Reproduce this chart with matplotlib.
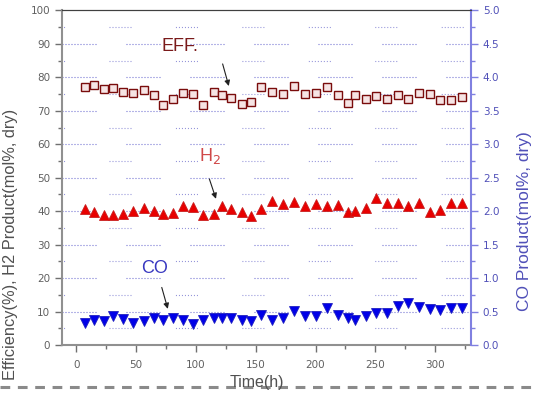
import matplotlib
matplotlib.use("Agg")
import matplotlib.pyplot as plt
from matplotlib.ticker import MultipleLocator
import numpy as np

plt.rcParams['font.family'] = ['DejaVu Sans']
plt.rcParams['lines.scale_dashes'] = False

# data
time_h = [7, 14.5, 22.8, 30.9, 39, 47.4, 56.2, 64.6, 72.4, 80.8, 89.4, 97.5, 105.8,
          114.7, 121.6, 129.7, 138.1, 146.2, 154.6, 163.5, 172.9, 182.3, 190.9, 200.1,
          209.4, 218.6, 227.5, 233.1, 242.5, 250.9, 259.8, 268.6, 277.4, 286.3, 295.7,
          304.1, 313.3, 322.2]
eff = [77.1, 77.6, 76.4, 76.8, 75.6, 75.4, 76.3, 74.8, 71.6, 73.4, 75.3, 75.1, 71.8,
       75.6, 74.8, 73.8, 72.1, 72.6, 77.1, 75.6, 75.1, 77.4, 75.1, 75.3, 77.1, 74.8,
       72.4, 74.8, 73.6, 74.4, 73.4, 74.8, 73.6, 75.4, 74.9, 73.1, 73.3, 74.1]
h2 = [40.5, 39.6, 38.8, 39.0, 39.1, 40.1, 40.8, 40.1, 39.3, 39.4, 41.6, 41.1, 38.8,
      39.3, 41.5, 40.6, 39.6, 38.5, 40.6, 43.0, 42.0, 42.8, 41.5, 42.0, 41.5, 41.8,
      39.6, 40.0, 41.0, 43.8, 42.3, 42.5, 41.6, 42.3, 39.8, 40.3, 42.3, 42.5]
co = [0.33, 0.37, 0.36, 0.43, 0.39, 0.33, 0.36, 0.40, 0.37, 0.40, 0.38, 0.31, 0.38,
      0.40, 0.41, 0.40, 0.37, 0.36, 0.45, 0.38, 0.41, 0.51, 0.43, 0.44, 0.56, 0.45,
      0.41, 0.38, 0.44, 0.48, 0.48, 0.59, 0.63, 0.57, 0.54, 0.52, 0.55, 0.55]

grey = '#707070'
blue_ax = '#8080e0'
blue_txt = '#5050b8'

fig = plt.figure(figsize=(5.33, 4.0), dpi=100)
ax = fig.add_axes([0.1163, 0.1375, 0.7674, 0.8365])
ax2 = ax.twinx()

ax.set_xlim(-12, 330)
ax.set_ylim(0, 100)
ax2.set_ylim(0, 5)

# patchy dotted grid like the original
dots = []
for k in range(12):
    dots += [0.72, 1.44]
major_dash = (0, tuple(dots[:-1] + [21.6]))
minor_dash = (14, tuple(dots[:15] + [32.0]))
for yv in range(10, 100, 10):
    ax.axhline(yv, color='#6a6ad0', lw=0.8, ls=major_dash, zorder=0)
for yv in range(5, 100, 10):
    ax.axhline(yv, color='#9090d8', lw=0.8, ls=minor_dash, zorder=0)

# series
ax.plot(time_h, eff, ls='none', marker='s', ms=5.8, mfc='#f6e4e4', mec='#7a0c0c',
        mew=1.0, zorder=3)
ax.plot(time_h, h2, ls='none', marker='^', ms=7.5, mfc='#e80000', mec='#c82020',
        mew=0.6, zorder=3)
ax2.plot(time_h, co, ls='none', marker='v', ms=7.5, mfc='#0000e8', mec='#2020c0',
         mew=0.6, zorder=3)

# labels on the plot
ax.text(71.5, 89.2, 'EFF.', color='#7a1a1a', fontsize=13, va='center', ha='left',
        family='Liberation Sans')
ax.annotate('', xy=(128.1, 76.6), xytext=(121.7, 84.8),
            arrowprops=dict(arrowstyle='-|>', color='#202020', lw=0.8, mutation_scale=8))
ax.text(102.5, 56.6, 'H$_2$', color='#d04848', fontsize=13, va='center', ha='left',
        family='Liberation Sans')
ax.annotate('', xy=(117.5, 42.9), xytext=(110.5, 50.4),
            arrowprops=dict(arrowstyle='-|>', color='#202020', lw=0.8, mutation_scale=8))
ax.text(54.5, 22.8, 'CO', color='#3838c0', fontsize=13, va='center', ha='left',
        family='Liberation Sans')
ax.annotate('', xy=(77.1, 10.0), xytext=(70.8, 18.0),
            arrowprops=dict(arrowstyle='-|>', color='#202020', lw=0.8, mutation_scale=8))

# ticks
ax.set_xticks([0, 50, 100, 150, 200, 250, 300])
ax.xaxis.set_minor_locator(MultipleLocator(25))
ax.yaxis.set_major_locator(MultipleLocator(10))
ax.yaxis.set_minor_locator(MultipleLocator(5))
ax2.yaxis.set_minor_locator(MultipleLocator(0.25))
ax2.set_yticks([0, 0.5, 1, 1.5, 2, 2.5, 3, 3.5, 4, 4.5, 5])
ax2.set_yticklabels(['%.1f' % v for v in np.arange(0, 5.01, 0.5)])

ax.tick_params(axis='both', which='major', direction='out', length=5, width=1,
               color=grey, labelcolor='#606060', labelsize=7.5)
ax.tick_params(axis='both', which='minor', direction='out', length=3, width=1, color=grey)
ax.tick_params(axis='x', pad=6)
ax2.tick_params(axis='y', which='major', direction='out', length=5, width=1,
                color=blue_ax, labelcolor=blue_txt, labelsize=7.5)
ax2.tick_params(axis='y', which='minor', direction='out', length=3, width=1, color=blue_ax)

for sp in ['left', 'bottom']:
    ax.spines[sp].set_color('#909090')
    ax.spines[sp].set_linewidth(1.5)
ax.spines['top'].set_color('#404040')
ax2.spines['top'].set_color('#404040')
ax2.spines['right'].set_color(blue_ax)
ax2.spines['right'].set_linewidth(1.5)
ax2.spines['left'].set_visible(False)
ax2.spines['bottom'].set_visible(False)
ax.spines['right'].set_visible(False)

ax.set_ylabel('Efficiency(%), H2 Product(mol%, dry)', color='#505050', fontsize=11.8,
              family='Liberation Sans')
ax.yaxis.set_label_coords(-0.108, 0.30)
ax2.set_ylabel('CO Product(mol%, dry)', color=blue_txt, fontsize=12.5,
               family='Liberation Sans')
ax2.yaxis.set_label_coords(1.113, 0.37)

# x label sits on the dashed rule like in the source
fig.text(0.482, 0.045, 'Time(h)', color='#505050', fontsize=11.5, ha='center', va='center',
         family='Liberation Sans')
fig.add_artist(plt.Line2D([0, 1], [0.033, 0.033], color='#8a8a8a', lw=2.2,
                          ls=(0, (7, 5.5)), transform=fig.transFigure))

fig.savefig('out.png', dpi=100)
